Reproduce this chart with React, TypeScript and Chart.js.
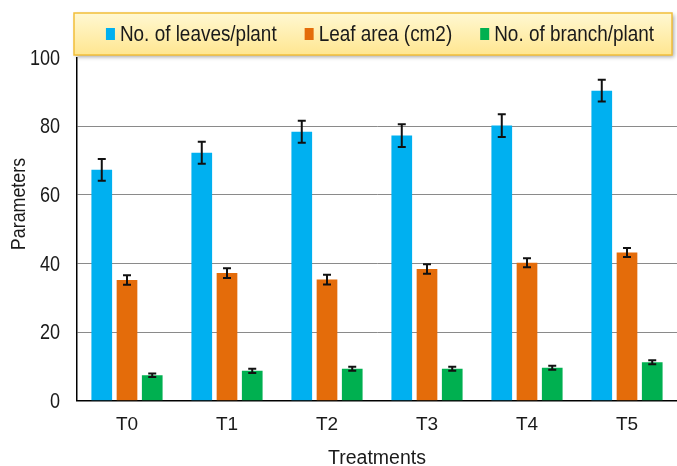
import React, { useEffect, useRef } from 'react';
import { Chart, registerables } from 'chart.js';

Chart.register(...registerables);

const categories = ['T0', 'T1', 'T2', 'T3', 'T4', 'T5'];
const seriesLabels = ['No. of leaves/plant', 'Leaf area (cm2)', 'No. of branch/plant'];
const leaves = [67.3, 72.3, 78.4, 77.3, 80.2, 90.4];
const leavesErr = [3.2, 3.2, 3.2, 3.3, 3.3, 3.2];
const leafArea = [35.2, 37.2, 35.3, 38.4, 40.2, 43.2];
const leafAreaErr = [1.4, 1.4, 1.4, 1.4, 1.3, 1.3];
const branches = [7.4, 8.7, 9.3, 9.3, 9.6, 11.2];
const branchesErr = [0.5, 0.6, 0.6, 0.6, 0.6, 0.6];
const yMin = 0;
const yMax = 100;
const yStep = 20;
const xTitle = 'Treatments';
const yTitle = 'Parameters';
const colors = ['#00B0F0', '#E46C0A', '#00B050'];

const FONT = "'Liberation Sans', Arial, sans-serif";
const TEXT = '#1a1a1a';

const errorBars = {
  id: 'errorBars',
  afterDatasetsDraw(chart: any) {
    const ctx = chart.ctx;
    const y = chart.scales.y;
    chart.data.datasets.forEach((ds: any, i: number) => {
      const meta = chart.getDatasetMeta(i);
      meta.data.forEach((bar: any, j: number) => {
        const v = ds.data[j];
        const e = ds.errors[j];
        const top = y.getPixelForValue(v + e);
        const bot = y.getPixelForValue(v - e);
        ctx.save();
        ctx.strokeStyle = '#111';
        ctx.lineWidth = 2;
        ctx.beginPath();
        ctx.moveTo(bar.x, top);
        ctx.lineTo(bar.x, bot);
        ctx.moveTo(bar.x - 4, top);
        ctx.lineTo(bar.x + 4, top);
        ctx.moveTo(bar.x - 4, bot);
        ctx.lineTo(bar.x + 4, bot);
        ctx.stroke();
        ctx.restore();
      });
    });
  },
};

// y-axis tick labels, taken from the scale's own ticks, drawn in the condensed look of the original
const yTickLabels = {
  id: 'yTickLabels',
  afterDraw(chart: any) {
    const ctx = chart.ctx;
    const s = chart.scales.y;
    ctx.save();
    ctx.font = `22px ${FONT}`;
    ctx.fillStyle = TEXT;
    ctx.textAlign = 'right';
    ctx.textBaseline = 'middle';
    s.ticks.forEach((t: any) => {
      const y = s.getPixelForValue(t.value);
      ctx.save();
      ctx.translate(s.right - 17, y + 1);
      ctx.scale(0.82, 1);
      ctx.fillText(String(t.label), 0, 0);
      ctx.restore();
    });
    ctx.restore();
  },
};

const legendBox = {
  id: 'legendBox',
  afterDraw(chart: any) {
    const ctx = chart.ctx;
    const bx = 74, by = 13, bw = 598, bh = 42;
    const k = 0.86;
    ctx.save();
    ctx.shadowColor = 'rgba(0,0,0,0.35)';
    ctx.shadowBlur = 4;
    ctx.shadowOffsetX = 2;
    ctx.shadowOffsetY = 2;
    const g = ctx.createLinearGradient(0, by, 0, by + bh);
    g.addColorStop(0, '#FFF8D2');
    g.addColorStop(1, '#FFE690');
    ctx.fillStyle = g;
    ctx.fillRect(bx, by, bw, bh);
    ctx.restore();
    ctx.save();
    ctx.strokeStyle = '#F2BE3A';
    ctx.lineWidth = 1.5;
    ctx.strokeRect(bx, by, bw, bh);
    ctx.font = `22px ${FONT}`;
    ctx.textBaseline = 'middle';
    ctx.textAlign = 'left';
    const ds = chart.data.datasets;
    const sq = 9, gap = 5, spacing = 28;
    const widths = ds.map((d: any) => ctx.measureText(d.label).width * k);
    const total = widths.reduce((a: number, b: number) => a + b, 0) + ds.length * (sq + gap) + (ds.length - 1) * spacing;
    let x = 380 - total / 2;
    const cy = by + bh / 2;
    ds.forEach((d: any, i: number) => {
      ctx.fillStyle = d.backgroundColor;
      ctx.fillRect(x, cy - 6, sq, 12);
      x += sq + gap;
      ctx.fillStyle = TEXT;
      ctx.save();
      ctx.translate(x, cy + 1);
      ctx.scale(k, 1);
      ctx.fillText(d.label, 0, 0);
      ctx.restore();
      x += widths[i] + spacing;
    });
    ctx.restore();
  },
};

const yTitlePlugin = {
  id: 'yTitlePlugin',
  afterDraw(chart: any) {
    const ctx = chart.ctx;
    ctx.save();
    ctx.translate(19, 204);
    ctx.rotate(-Math.PI / 2);
    ctx.scale(0.85, 1);
    ctx.font = `21px ${FONT}`;
    ctx.fillStyle = TEXT;
    ctx.textAlign = 'center';
    ctx.textBaseline = 'middle';
    ctx.fillText(yTitle, 0, 0);
    ctx.restore();
  },
};

export default function App() {
  const ref = useRef<HTMLCanvasElement>(null);
  useEffect(() => {
    if (!ref.current) return;
    const seriesData = [leaves, leafArea, branches];
    const seriesErr = [leavesErr, leafAreaErr, branchesErr];
    const chart = new Chart(ref.current, {
      type: 'bar',
      data: {
        labels: categories,
        datasets: seriesLabels.map((label, i) => ({
          label,
          data: seriesData[i],
          errors: seriesErr[i],
          backgroundColor: colors[i],
          borderWidth: 0,
          categoryPercentage: 0.757,
          barPercentage: 0.82,
        })) as any,
      },
      options: {
        responsive: false,
        animation: false,
        devicePixelRatio: 1,
        layout: { padding: { top: 57.7, right: -6, left: 0, bottom: 0 } },
        plugins: {
          legend: { display: false },
          tooltip: { enabled: false },
        },
        scales: {
          x: {
            grid: { display: false, drawTicks: false },
            border: { display: true, color: '#000', width: 1.5 },
            ticks: { color: TEXT, font: { family: FONT, size: 19 }, padding: 13 },
            title: {
              display: true,
              text: xTitle,
              color: TEXT,
              font: { family: FONT, size: 19.5 },
              padding: { top: 0, bottom: -4.5 },
            },
            afterFit: (s: any) => { s.height = 65.3; },
          },
          y: {
            min: yMin,
            max: yMax,
            ticks: { stepSize: yStep, display: false },
            grid: {
              drawTicks: false,
              color: (c: any) => (c.tick && c.tick.value === yMax ? 'rgba(0,0,0,0)' : '#8a8a8a'),
              lineWidth: 1,
            },
            border: { display: true, color: '#000', width: 1.5 },
            afterFit: (s: any) => { s.width = 77; },
          },
        },
      },
      plugins: [errorBars, yTickLabels, legendBox, yTitlePlugin],
    });
    return () => chart.destroy();
  }, []);
  return (
    <div style={{ position: 'fixed', left: 0, top: 0, width: 677, height: 466, background: '#fff' }}>
      <canvas ref={ref} width={677} height={466} style={{ display: 'block' }} />
    </div>
  );
}
